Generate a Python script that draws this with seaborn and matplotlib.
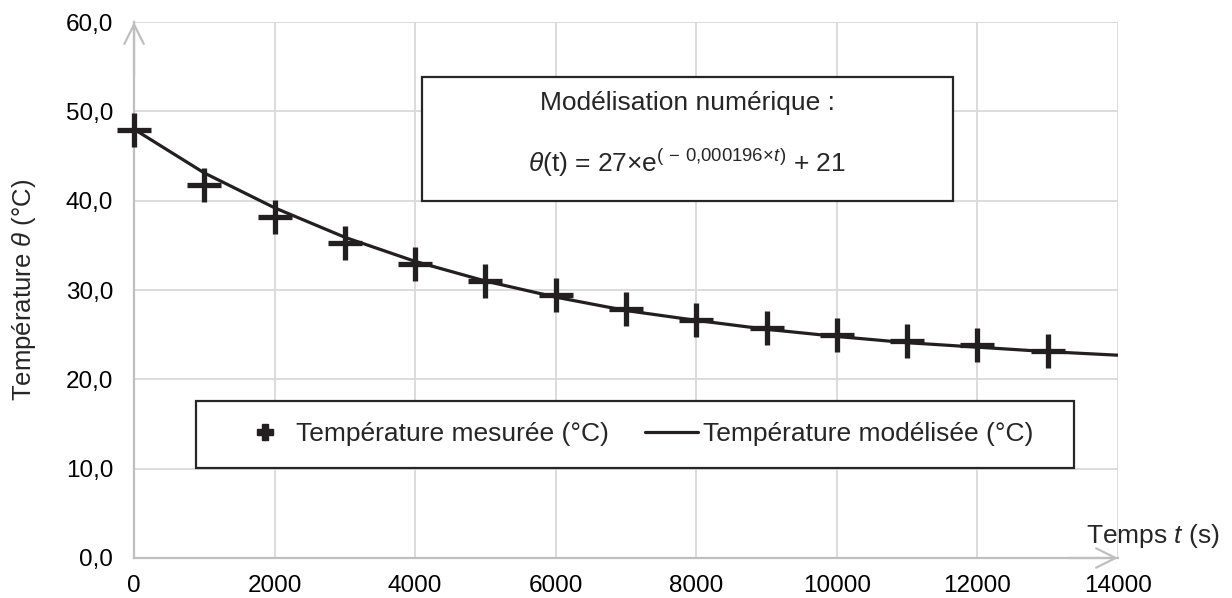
import numpy as np
import pandas as pd
import matplotlib
matplotlib.use("Agg")
import matplotlib.pyplot as plt
import seaborn as sns
from matplotlib.lines import Line2D
from matplotlib.patches import Rectangle

# -----------------------------
# Data
# -----------------------------

t_measured = [0, 1000, 2000, 3000, 4000, 5000, 6000,
              7000, 8000, 9000, 10000, 11000, 12000, 13000]
temp_measured = [47.9, 41.7, 38.2, 35.3, 32.9, 31.0, 29.4,
                 27.9, 26.6, 25.7, 25.0, 24.3, 23.8, 23.2]

t_model = [0, 1000, 2000, 3000, 4000, 5000, 6000, 7000,
           8000, 9000, 10000, 11000, 12000, 13000, 14000]
temp_model = [48.0, 43.1, 39.2, 35.9, 33.2, 31.0, 29.2, 27.7,
              26.6, 25.6, 24.8, 24.1, 23.6, 23.1, 22.7]

x_ticks = [0, 2000, 4000, 6000, 8000, 10000, 12000, 14000]
y_ticks = [0, 10, 20, 30, 40, 50, 60]

label_measured = "Température mesurée (°C)"
label_model = "Température modélisée (°C)"

df_meas = pd.DataFrame({"t": t_measured, "T": temp_measured})
df_mod = pd.DataFrame({"t": t_model, "T": temp_model})

# -----------------------------
# Styling
# -----------------------------

sns.set_style("white")
plt.rcParams["font.family"] = ["Liberation Sans", "DejaVu Sans"]
plt.rcParams["mathtext.fontset"] = "custom"
plt.rcParams["mathtext.rm"] = "Liberation Sans"
plt.rcParams["mathtext.it"] = "Liberation Sans:italic"
plt.rcParams["font.size"] = 19

AXIS_GREY = "#bfbfbf"
GRID_GREY = "#d9d9d9"
INK = "#231f20"
TICK_FS = 17.5
TEXT_FS = 19

fig = plt.figure(figsize=(12.32, 5.98), dpi=100)
ax = fig.add_axes([0.1088, 0.0669, 0.7987, 0.8963])

sns.lineplot(data=df_mod, x="t", y="T", ax=ax, color=INK,
             linewidth=2.3, zorder=3)
sns.scatterplot(data=df_meas, x="t", y="T", ax=ax, marker="+",
                s=600, linewidth=3.8, color=INK, zorder=4, clip_on=False)

ax.set_xlim(0, 14000)
ax.set_ylim(0, 60)
ax.set_xticks(x_ticks)
ax.set_yticks(y_ticks)
ax.set_yticklabels([f"{v:.1f}".replace(".", ",") for v in y_ticks])
ax.tick_params(axis="both", length=0, labelsize=TICK_FS, colors="black")
ax.tick_params(axis="x", pad=12.5)
ax.tick_params(axis="y", pad=15)

ax.grid(True, color=GRID_GREY, linewidth=1.3)
ax.set_axisbelow(True)

for side in ["top", "right"]:
    ax.spines[side].set_visible(False)
for side in ["left", "bottom"]:
    ax.spines[side].set_color(AXIS_GREY)
    ax.spines[side].set_linewidth(1.6)
    ax.spines[side].set_zorder(2.5)

# open arrow heads at the ends of the axes
arrow_kw = dict(arrowstyle="->,head_length=1.4,head_width=0.7",
                color=AXIS_GREY, lw=1.6, shrinkA=0, shrinkB=0,
                mutation_scale=10)
ax.annotate("", xy=(0, 1), xytext=(0, 0.9), xycoords="axes fraction",
            arrowprops=arrow_kw, annotation_clip=False)
ax.annotate("", xy=(1, 0), xytext=(0.95, 0), xycoords="axes fraction",
            arrowprops=arrow_kw, annotation_clip=False)

# axis labels
ax.set_ylabel("Température $\\theta$ (°C)", fontsize=18.5)
ax.yaxis.set_label_coords(-0.0975, 0.5)
ax.set_xlabel("Temps $t$ (s)", fontsize=TEXT_FS, va="center")
ax.xaxis.set_label_coords(1.0356, 0.041)

# model box
ax.add_patch(Rectangle((0.2927, 0.666), 0.5396, 0.231, transform=ax.transAxes,
                       facecolor="white", edgecolor="#262626", linewidth=1.6,
                       zorder=5))
ax.text(0.562, 0.849, "Modélisation numérique :", transform=ax.transAxes,
        ha="center", va="center", fontsize=TEXT_FS, zorder=6)
ax.text(0.562, 0.737,
        "$\\theta$(t) = 27×e$^{(\\,-\\,0{,}000196\\!\\times\\!t)}$ + 21",
        transform=ax.transAxes, ha="center", va="center", fontsize=TEXT_FS,
        zorder=6)

# legend box
ax.add_patch(Rectangle((0.063, 0.168), 0.892, 0.125, transform=ax.transAxes,
                       facecolor="white", edgecolor="#262626", linewidth=1.6,
                       zorder=5))
handles = [
    Line2D([], [], color=INK, marker="P", markersize=11, linestyle="none"),
    Line2D([], [], color=INK, linewidth=2.3),
]
leg = ax.legend(handles, [label_measured, label_model], ncol=2,
                loc="center", bbox_to_anchor=(0.510, 0.231),
                frameon=False, fontsize=TEXT_FS, handlelength=2.0,
                handletextpad=0.2, columnspacing=1.36)
leg.set_zorder(6)

fig.savefig("out.png", dpi=100)
